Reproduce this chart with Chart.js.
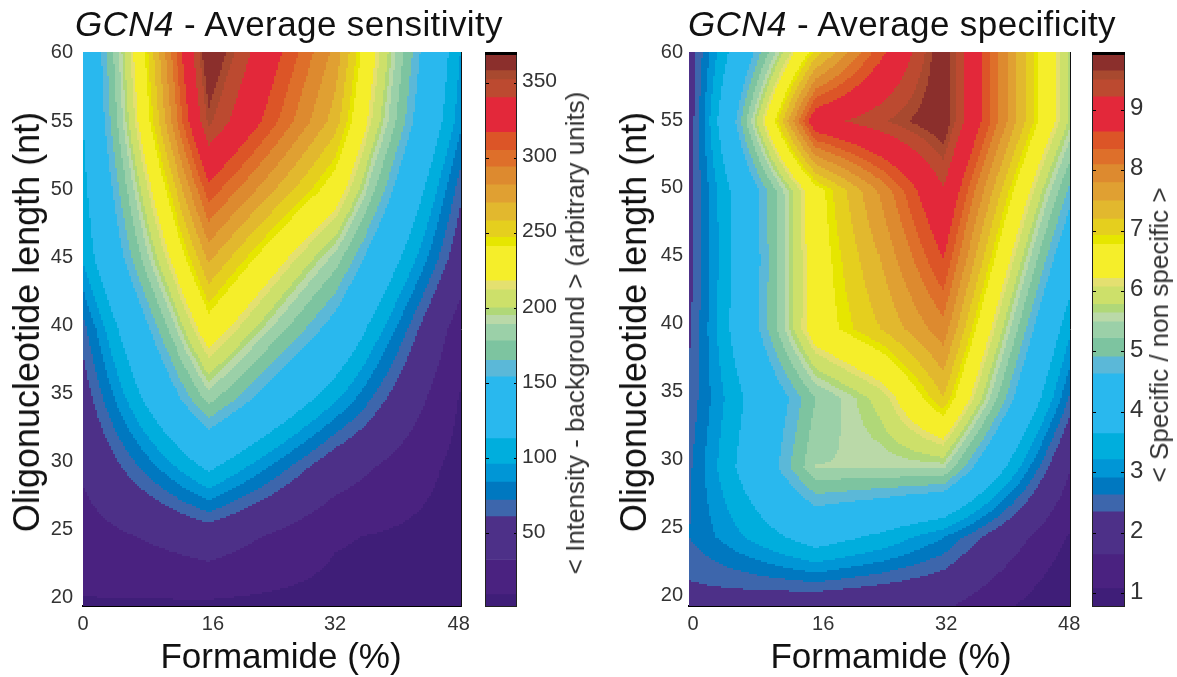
<!DOCTYPE html>
<html>
<head>
<meta charset="utf-8">
<title>GCN4 - sensitivity and specificity</title>
<script src="https://cdn.jsdelivr.net/npm/chart.js@4"></script>
<style>
    html, body { margin: 0; padding: 0; background: #fff; }
    body { width: 1177px; height: 677px; position: relative; overflow: hidden; font-family: "Liberation Sans", Arial, sans-serif; }
    canvas { position: absolute; top: 0; }
    .txt { position: absolute; white-space: nowrap; color: #111; line-height: 1; }
    .main { font-size: 35px; letter-spacing: 0.4px; top: 6px; }
    .xt { font-size: 35px; top: 638px; transform: translateX(-50%); }
    .yt { font-size: 36px; transform: translate(-50%, -50%) rotate(-90deg); }
    .bt { font-size: 26px; color: #333; transform: translate(-50%, -50%) rotate(-90deg); }
</style>
</head>
<body>
<canvas id="sensPlot" width="480" height="677" style="left:0"></canvas>
<canvas id="sensBar" width="100" height="677" style="left:480px"></canvas>
<canvas id="specPlot" width="489" height="677" style="left:600px"></canvas>
<canvas id="specBar" width="90" height="677" style="left:1087px"></canvas>

<div class="txt main" style="left:75px"><i>GCN4</i> - Average sensitivity</div>
<div class="txt main" style="left:688px"><i>GCN4</i> - Average specificity</div>
<div class="txt xt" style="left:281px">Formamide (%)</div>
<div class="txt xt" style="left:891px">Formamide (%)</div>
<div class="txt yt" style="left:27px;top:322px">Oligonucleotide length (nt)</div>
<div class="txt yt" style="left:634px;top:322px">Oligonucleotide length (nt)</div>
<div class="txt bt" style="left:575px;top:333px">&lt; Intensity - background &gt; (arbitrary units)</div>
<div class="txt bt" style="left:1159px;top:335px">&lt; Specific / non specific &gt;</div>

<script>
// Grid of the measurements
const sensFormamide = [0, 16, 32, 48];
const specFormamide = [0, 16, 24, 32, 48];
const lengths = [60, 55, 50, 45, 40, 35, 30, 25, 20];

// one array per formamide column, same order as lengths
const sens0 = [118, 114, 107, 98, 68, 52, 37, 22, 8];
const sens16 = [372, 356, 313, 273, 233, 185, 118, 48, 6];
const sens32 = [279, 265, 232, 185, 145, 100, 47, 12, 3];
const sens48 = [96, 88, 65, 48, 20, 8, 3, 2, 1.5];

const spec0 = [2.13, 2.1, 2.25, 2.22, 2.3, 2.45, 2.58, 2.65, 2.2];
const spec16 = [7.05, 9.03, 6.6, 6.55, 6.55, 5.24, 5.52, 3.98, 1.95];
const spec24 = [8.52, 9.46, 7.85, 7.5, 7.2, 5.9, 5.53, 3.55, 1.85];
const spec32 = [9.9, 9.9, 9.2, 8.65, 8.0, 7.2, 5.56, 2.95, 1.75];
const spec48 = [5.75, 5.75, 4.85, 4.05, 3.3, 2.6, 1.7, 1.05, 0.6];

// Colour bands, top of the colour bar first
const bandColors = [
    '#8b2f2c', '#a8492f', '#bc4a30', '#e3283a', '#dc5527', '#de6f2a', '#dd8a2f',
    '#e0a032', '#e2b82e', '#e5cf1e', '#e6e600', '#f5ee2a', '#e4e070', '#cde06a',
    '#b0d878', '#bad9a8', '#9bd0a8', '#7dc4a0', '#5bb8d8', '#29b8ee', '#00aedd',
    '#0096d6', '#0078c0', '#3d66ac', '#4d3088', '#4a2280', '#3f1e78'
];
// band limits, one more entry than bandColors
const sensLevels = [371, 359, 353, 341, 318, 306, 295, 283, 271, 259, 248, 242, 219, 213, 201, 196, 190, 179, 166, 155, 114, 97, 85, 73, 62, 33, 10, 2];
const specLevels = [9.96, 9.66, 9.51, 9.23, 8.65, 8.36, 8.11, 7.81, 7.51, 7.21, 6.94, 6.79, 6.23, 6.09, 5.80, 5.66, 5.51, 5.24, 4.93, 4.65, 3.66, 3.23, 2.93, 2.65, 2.37, 1.66, 1.10, 0.80];

// Tick labels
const xTicks = [0, 16, 32, 48];
const yTicks = [20, 25, 30, 35, 40, 45, 50, 55, 60];
const sensBarTicks = [50, 100, 150, 200, 250, 300, 350];
const specBarTicks = [1, 2, 3, 4, 5, 6, 7, 8, 9];

// the x labels are not quite centred on their columns in the picture
const sensXSpots = [0, 16.5, 32, 47.7];
const specXSpots = [0.5, 16.9, 32.4, 47.9];

Chart.defaults.font.family = '"Liberation Sans", Arial, sans-serif';
Chart.defaults.animation = false;

// Bilinear value inside the measurement grid
function gridValue(formamide, columns, fx, len) {
    let i = 0;
    while (i < formamide.length - 2 && fx > formamide[i + 1]) i++;
    let j = 0;
    while (j < lengths.length - 2 && len < lengths[j + 1]) j++;
    const tx = (fx - formamide[i]) / (formamide[i + 1] - formamide[i]);
    const ty = (lengths[j] - len) / (lengths[j] - lengths[j + 1]);
    const top = columns[i][j] * (1 - tx) + columns[i + 1][j] * tx;
    const bottom = columns[i][j + 1] * (1 - tx) + columns[i + 1][j + 1] * tx;
    return top * (1 - ty) + bottom * ty;
}

function bandColor(levels, value) {
    for (let k = 0; k < bandColors.length; k++) {
        if (value >= levels[k + 1]) return bandColors[k];
    }
    return bandColors[bandColors.length - 1];
}

// Paints the colour bands under the points, through the chart's scales
const bandFill = {
    id: 'bandFill',
    beforeDatasetsDraw(chart, args, opts) {
        const { ctx, scales: { x, y } } = chart;
        const nx = 190, ny = 277;
        ctx.save();
        for (let a = 0; a < nx; a++) {
            const x0 = 48 * a / nx, x1 = 48 * (a + 1) / nx;
            const px0 = Math.round(x.getPixelForValue(x0));
            const px1 = Math.round(x.getPixelForValue(x1));
            for (let b = 0; b < ny; b++) {
                const y0 = 60 - 40 * b / ny, y1 = 60 - 40 * (b + 1) / ny;
                const py0 = Math.round(y.getPixelForValue(y0));
                const py1 = Math.round(y.getPixelForValue(y1));
                const value = gridValue(opts.formamide, opts.columns, (x0 + x1) / 2, (y0 + y1) / 2);
                ctx.fillStyle = bandColor(opts.levels, value);
                ctx.fillRect(px0, py0, px1 - px0, py1 - py0);
            }
        }
        ctx.restore();
    }
};

// Black box of the colour bar, heavier on top
const barFrame = {
    id: 'barFrame',
    afterDraw(chart) {
        const { ctx, chartArea: a } = chart;
        ctx.save();
        ctx.strokeStyle = '#222';
        ctx.lineWidth = 1;
        ctx.strokeRect(a.left + 0.5, a.top + 0.5, a.right - a.left - 1, a.bottom - a.top);
        ctx.fillStyle = '#000';
        ctx.fillRect(a.left, a.top, a.right - a.left, 3);
        ctx.restore();
    }
};

function makePlot(id, formamide, columns, levels, leftWidth, labelPad, tickMin, tickMax, xSpots) {
    const points = [];
    formamide.forEach((fx, i) => {
        lengths.forEach((len, j) => points.push({ x: fx, y: len, v: columns[i][j] }));
    });
    new Chart(document.getElementById(id), {
        type: 'scatter',
        data: { datasets: [{ data: points, pointRadius: 0, yAxisID: 'y' }] },
        plugins: [bandFill],
        options: {
            responsive: false,
            layout: { padding: { top: 52, right: 19, left: 0, bottom: 0 } },
            plugins: {
                legend: { display: false },
                tooltip: { enabled: false },
                bandFill: { formamide: formamide, columns: columns, levels: levels }
            },
            scales: {
                x: {
                    type: 'linear', min: 0, max: 48,
                    grid: { display: false, drawTicks: false },
                    border: { color: '#000', width: 2 },
                    afterBuildTicks: s => { s.ticks = xSpots.map(v => ({ value: v })); },
                    afterFit: s => { s.height = 71; },
                    ticks: {
                        color: '#333', font: { size: 20 }, padding: 6, maxRotation: 0, autoSkip: false,
                        callback: (v, i) => xTicks[i]
                    }
                },
                y: {
                    type: 'linear', position: 'right', min: 20, max: 60,
                    grid: { display: false },
                    border: { color: '#111', width: 1 },
                    ticks: { display: false },
                    afterFit: s => { s.width = 0; }
                },
                // labels in the picture sit a little tighter than the data rows
                yLabels: {
                    type: 'linear', position: 'left', min: tickMin, max: tickMax,
                    grid: { display: false, drawTicks: false },
                    border: { display: false },
                    afterBuildTicks: s => { s.ticks = yTicks.map(v => ({ value: v })); },
                    afterFit: s => { s.width = leftWidth; },
                    ticks: { color: '#333', font: { size: 20 }, padding: labelPad, autoSkip: false }
                }
            }
        }
    });
}

function makeBar(id, levels, ticks, axisWidth, fontSize, offset) {
    const datasets = bandColors.map((color, k) => ({
        data: [[levels[k + 1], levels[k]]],
        backgroundColor: color,
        borderWidth: 0,
        barPercentage: 1,
        categoryPercentage: 1,
        grouped: false
    }));
    new Chart(document.getElementById(id), {
        type: 'bar',
        data: { labels: ['scale'], datasets: datasets },
        plugins: [barFrame],
        options: {
            responsive: false,
            layout: { padding: { top: 52, bottom: 71, left: 5, right: 0 } },
            plugins: { legend: { display: false }, tooltip: { enabled: false } },
            scales: {
                x: { display: false },
                y: {
                    position: 'right',
                    min: levels[levels.length - 1], max: levels[0],
                    grid: { drawTicks: false, color: '#000', z: 1 },
                    border: { display: false, dash: [4, 25] },
                    afterBuildTicks: s => { s.ticks = ticks.map(v => ({ value: v })); },
                    afterFit: s => { s.width = axisWidth; },
                    ticks: { color: '#333', font: { size: fontSize }, padding: 5, labelOffset: offset, autoSkip: false }
                }
            }
        }
    });
}

makePlot('sensPlot', sensFormamide, [sens0, sens16, sens32, sens48], sensLevels, 83, 10, 19.41, 60.07, sensXSpots);
makePlot('specPlot', specFormamide, [spec0, spec16, spec24, spec32, spec48], specLevels, 89, 6, 19.26, 60, specXSpots);
makeBar('sensBar', sensLevels, sensBarTicks, 63, 21, -2);
makeBar('specBar', specLevels, specBarTicks, 52, 24, -2);
</script>
</body>
</html>
